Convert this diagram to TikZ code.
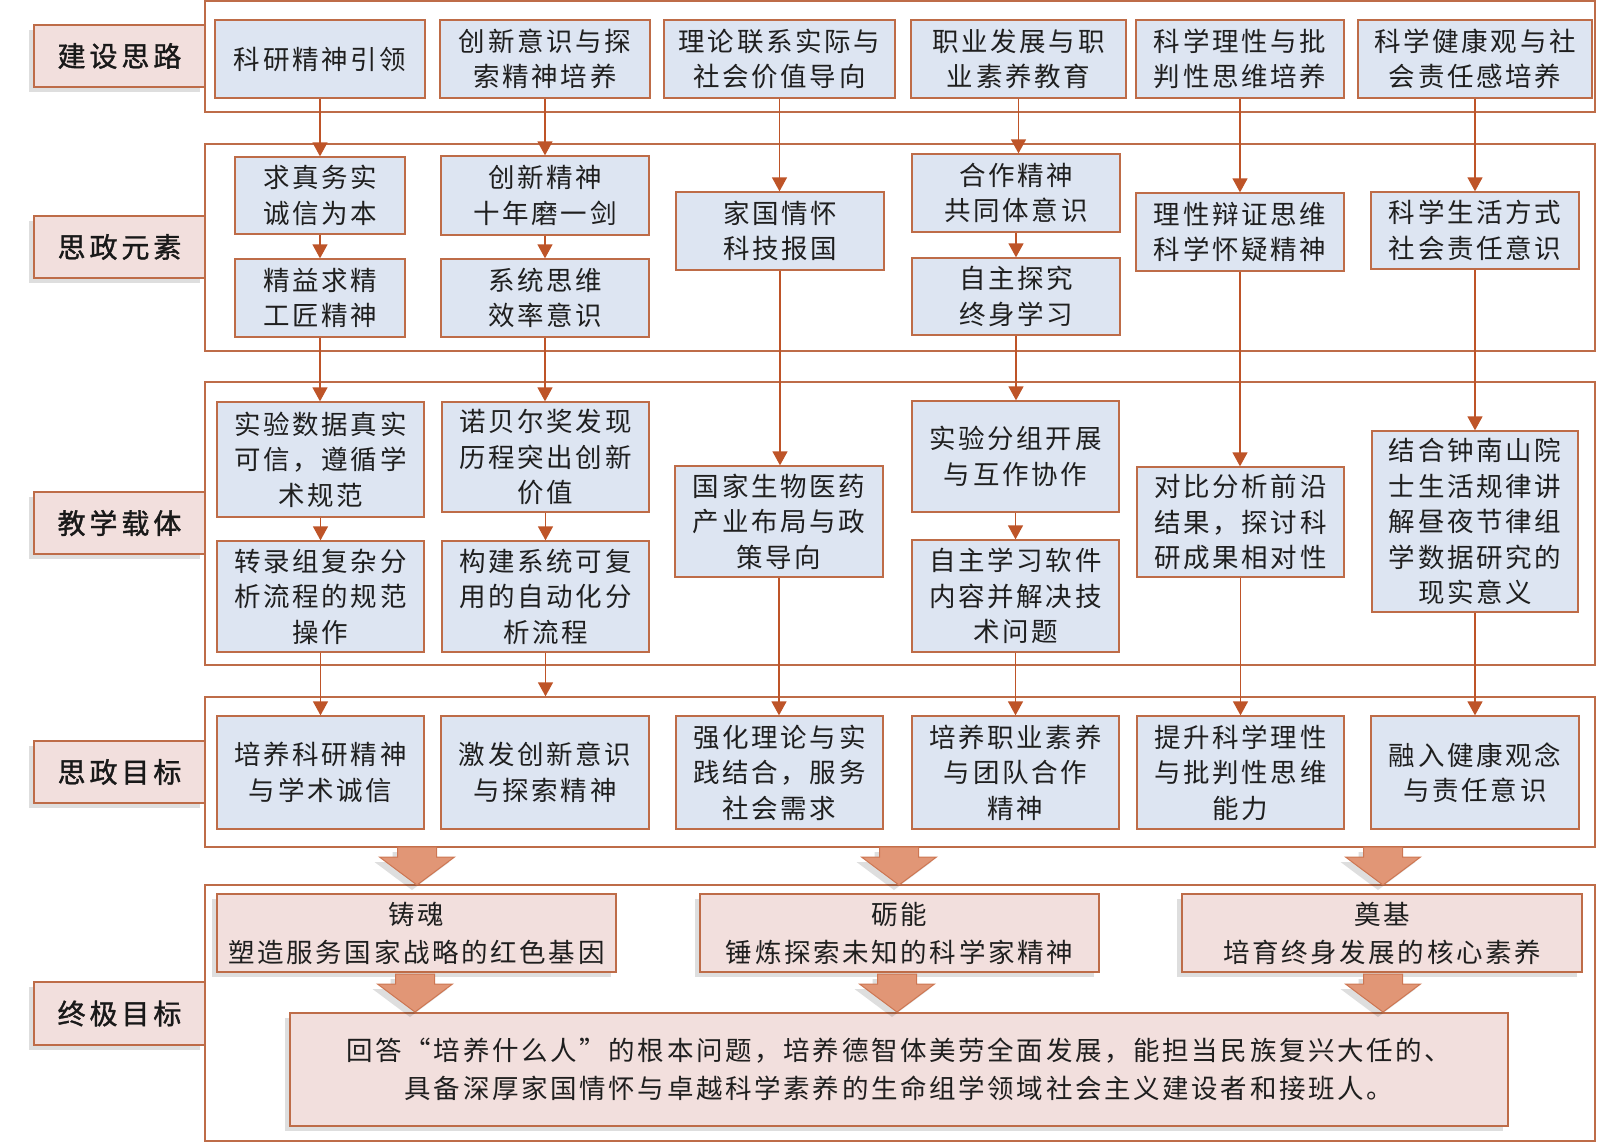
\documentclass[tikz,border=0pt]{standalone}
\usepackage{fontspec}
\newfontfamily\cjk[LetterSpace=10]{Noto Sans CJK SC}
\newfontfamily\cjkl[LetterSpace=14,FakeBold=1.2]{Noto Sans CJK SC}
\usetikzlibrary{arrows.meta,shadows}
\definecolor{brd}{RGB}{190,108,72}
\definecolor{arr}{RGB}{190,84,40}
\definecolor{blu}{RGB}{221,229,242}
\definecolor{pnk}{RGB}{242,223,221}
\definecolor{bar}{RGB}{225,150,118}
\definecolor{bard}{RGB}{205,118,82}
\newcommand\mkbox[7]{\node[#1, minimum width={#5-#3}, minimum height={#6-#4}] (#2) at ({(#3+#5)/2},{(#4+#6)/2}) {#7};}
\begin{document}
\begin{tikzpicture}[x=1pt,y=-1pt,
  frm/.style={draw=brd, line width=1.3pt, fill=white, inner sep=0pt},
  bx/.style={draw=brd, line width=1.3pt, fill=blu, inner sep=0pt, align=center, text=black!88,
    font=\cjk\fontsize{26.5}{35.5}\selectfont},
  shd/.style={drop shadow={shadow xshift=-5pt, shadow yshift=-5pt, opacity=0.13, fill=black}},
  lab/.style={draw=brd, line width=1.3pt, fill=pnk, inner sep=0pt, shd, text=black!90,
    font=\cjkl\fontsize{28}{34}\selectfont},
  pk/.style={draw=brd, line width=1.3pt, fill=pnk, inner sep=0pt, shd, align=center, text=black!88,
    font=\cjk\fontsize{26.5}{38}\selectfont},
  con/.style={draw=arr, line width=1.3pt, -{Triangle[width=15pt,length=14pt]}},
  barrow/.pic={\path[draw=bard, line width=1pt, fill=bar, shd]
    (-19.5,0) -- (19.5,0) -- (19.5,10) -- (37.5,10) -- (0,38) -- (-37.5,10) -- (-19.5,10) -- cycle;}
]
\useasboundingbox (0,0) rectangle (1599,1144);

% frames
\mkbox{frm}{F1}{205}{1}{1595}{112}{}
\mkbox{frm}{F2}{205}{144}{1595}{351}{}
\mkbox{frm}{F3}{205}{382}{1595}{665}{}
\mkbox{frm}{F4}{205}{697}{1595}{847}{}
\mkbox{frm}{F5}{205}{885}{1595}{1141}{}

% labels
\mkbox{lab}{L1}{34}{25}{205}{87}{建设思路}
\mkbox{lab}{L2}{34}{216}{205}{278}{思政元素}
\mkbox{lab}{L3}{34}{492}{205}{554}{教学载体}
\mkbox{lab}{L4}{34}{741}{205}{803}{思政目标}
\mkbox{lab}{L5}{34}{982}{205}{1045}{终极目标}

% row 1
\mkbox{bx}{a1}{215}{20}{425}{98}{科研精神引领}
\mkbox{bx}{a2}{440}{20}{650}{98}{创新意识与探\\索精神培养}
\mkbox{bx}{a3}{664}{20}{895}{98}{理论联系实际与\\社会价值导向}
\mkbox{bx}{a4}{911}{20}{1126}{98}{职业发展与职\\业素养教育}
\mkbox{bx}{a5}{1136}{20}{1344}{98}{科学理性与批\\判性思维培养}
\mkbox{bx}{a6}{1358}{20}{1592}{98}{科学健康观与社\\会责任感培养}

% row 2
\mkbox{bx}{b1}{235}{157}{405}{234}{求真务实\\诚信为本}
\mkbox{bx}{b2}{235}{259}{405}{337}{精益求精\\工匠精神}
\mkbox{bx}{b3}{441}{156}{649}{235}{创新精神\\十年磨一剑}
\mkbox{bx}{b4}{441}{259}{649}{337}{系统思维\\效率意识}
\mkbox{bx}{b5}{676}{192}{884}{270}{家国情怀\\科技报国}
\mkbox{bx}{b6}{912}{154}{1120}{232}{合作精神\\共同体意识}
\mkbox{bx}{b7}{912}{258}{1120}{335}{自主探究\\终身学习}
\mkbox{bx}{b8}{1136}{193}{1344}{271}{理性辩证思维\\科学怀疑精神}
\mkbox{bx}{b9}{1371}{192}{1579}{269}{科学生活方式\\社会责任意识}

% row 3
\mkbox{bx}{c1}{217}{402}{424}{517}{实验数据真实\\可信，遵循学\\术规范}
\mkbox{bx}{c2}{217}{541}{424}{652}{转录组复杂分\\析流程的规范\\操作}
\mkbox{bx}{c3}{442}{402}{649}{512}{诺贝尔奖发现\\历程突出创新\\价值}
\mkbox{bx}{c4}{442}{541}{649}{652}{构建系统可复\\用的自动化分\\析流程}
\mkbox{bx}{c5}{675}{466}{883}{577}{国家生物医药\\产业布局与政\\策导向}
\mkbox{bx}{c6}{912}{401}{1119}{512}{实验分组开展\\与互作协作}
\mkbox{bx}{c7}{912}{540}{1119}{652}{自主学习软件\\内容并解决技\\术问题}
\mkbox{bx}{c8}{1137}{467}{1344}{577}{对比分析前沿\\结果，探讨科\\研成果相对性}
\mkbox{bx}{c9}{1372}{431}{1578}{612}{结合钟南山院\\士生活规律讲\\解昼夜节律组\\学数据研究的\\现实意义}

% row 4
\mkbox{bx}{d1}{217}{716}{424}{829}{培养科研精神\\与学术诚信}
\mkbox{bx}{d2}{441}{716}{649}{829}{激发创新意识\\与探索精神}
\mkbox{bx}{d3}{676}{716}{883}{829}{强化理论与实\\践结合，服务\\社会需求}
\mkbox{bx}{d4}{912}{716}{1119}{829}{培养职业素养\\与团队合作\\精神}
\mkbox{bx}{d5}{1137}{716}{1344}{829}{提升科学理性\\与批判性思维\\能力}
\mkbox{bx}{d6}{1371}{716}{1579}{829}{融入健康观念\\与责任意识}

% row 5
\mkbox{pk}{e1}{217}{894}{616}{972}{铸魂\\塑造服务国家战略的红色基因}
\mkbox{pk}{e2}{700}{894}{1099}{972}{砺能\\锤炼探索未知的科学家精神}
\mkbox{pk}{e3}{1182}{894}{1582}{972}{奠基\\培育终身发展的核心素养}
\mkbox{pk}{fin}{290}{1013}{1508}{1126}{回答“培养什么人”的根本问题，培养德智体美劳全面发展，能担当民族复兴大任的、\\具备深厚家国情怀与卓越科学素养的生命组学领域社会主义建设者和接班人。}

% connectors row 1 -> row 2
\draw[con] (a1.south) -- (a1.south |- b1.north);
\draw[con] (a2.south) -- (a2.south |- b3.north);
\draw[con] (a3.south) -- (a3.south |- b5.north);
\draw[con] (a4.south) -- (a4.south |- b6.north);
\draw[con] (a5.south) -- (a5.south |- b8.north);
\draw[con] (a6.south) -- (a6.south |- b9.north);
% inside row 2
\draw[con] (b1.south) -- (b2.north);
\draw[con] (b3.south) -- (b4.north);
\draw[con] (b6.south) -- (b7.north);
% row 2 -> row 3
\draw[con] (b2.south) -- (b2.south |- c1.north);
\draw[con] (b4.south) -- (b4.south |- c3.north);
\draw[con] (b5.south) -- (b5.south |- c5.north);
\draw[con] (b7.south) -- (b7.south |- c6.north);
\draw[con] (b8.south) -- (b8.south |- c8.north);
\draw[con] (b9.south) -- (b9.south |- c9.north);
% inside row 3
\draw[con] (c1.south) -- (c2.north);
\draw[con] (c3.south) -- (c4.north);
\draw[con] (c6.south) -- (c7.north);
% row 3 -> row 4
\draw[con] (c2.south) -- (c2.south |- d1.north);
\draw[con] (c4.south) -- (c4.south |- F4.north);
\draw[con] (c5.south) -- (c5.south |- d3.north);
\draw[con] (c7.south) -- (c7.south |- d4.north);
\draw[con] (c8.south) -- (c8.south |- d5.north);
\draw[con] (c9.south) -- (c9.south |- d6.north);

% block arrows
\pic at (417,847) {barrow};
\pic at (899,847) {barrow};
\pic at (1383,847) {barrow};
\pic at (415,974) {barrow};
\pic at (897,974) {barrow};
\pic at (1383,974) {barrow};
\end{tikzpicture}
\end{document}
